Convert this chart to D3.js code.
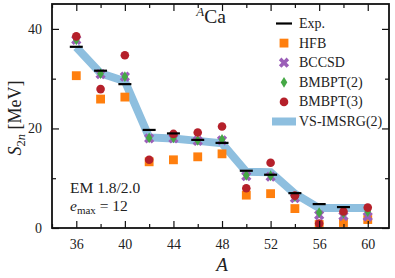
<!DOCTYPE html>
<html>
<head>
<meta charset="utf-8">
<script src="https://cdn.jsdelivr.net/npm/d3@7"></script>
<style>
  body { margin: 0; background: #fff; }
  text { font-family: "Liberation Serif", "DejaVu Serif", serif; fill: #222; }
</style>
</head>
<body>
<svg id="chart" width="395" height="278"></svg>
<script>
// mass numbers of the Ca isotopes
const massNumbers = [36, 38, 40, 42, 44, 46, 48, 50, 52, 54, 56, 58, 60];

// S2n in MeV
const expValues    = [36.4, 31.6, 28.9, 19.7, 19.0, 17.7, 17.1, 11.5, 10.7, 7.0, 4.8, 4.2];
const hfbValues    = [30.6, 25.9, 26.3, 13.3, 13.7, 14.3, 14.9, 6.6, 6.9, 3.9, 0.7, 1.1, 1.7];
const bccsdValues  = [37.8, 30.9, 30.4, 18.0, 18.0, 17.5, 17.6, 10.4, 10.3, 6.0, 2.6, 2.4, 2.3];
const bmbpt2Values = [37.8, 31.0, 30.4, 18.1, 18.1, 17.6, 17.8, 10.6, 10.5, 6.3, 3.1, 3.0, 3.3];
const bmbpt3Values = [38.5, 27.9, 34.7, 13.7, 18.9, 19.2, 20.4, 8.0, 13.1, 6.5, 0.9, 3.3, 4.1];
const imsrgValues  = [36.3, 31.1, 29.5, 18.2, 18.0, 17.5, 17.0, 11.3, 11.2, 6.9, 4.0, 4.0, 4.0];

const xMajorTicks = [36, 40, 44, 48, 52, 56, 60];
const xMinorTicks = [34, 38, 42, 46, 50, 54, 58];
const yMajorTicks = [0, 20, 40];
const yMinorTicks = [10, 30];

const legendLabels = ["Exp.", "HFB", "BCCSD", "BMBPT(2)", "BMBPT(3)", "VS-IMSRG(2)"];

const colors = {
  hfb: "#ff7f0e",
  bccsd: "#9b5fb8",
  bmbpt2: "#45a845",
  bmbpt3: "#b5202a",
  imsrg: "#8ebfdf"
};

var svg = d3.select("#chart"),
    box = {left: 52, right: 389, top: 4, bottom: 228};

var x = d3.scaleLinear().domain([34, 61.75]).range([box.left, box.right]);
var y = d3.scaleLinear().domain([0, 45]).range([box.bottom, box.top]);

const pts = vals => vals.map((v, i) => ({a: massNumbers[i], v}));

// marker shapes
var squarePath = d3.symbol().type(d3.symbolSquare).size(78)();
var circlePath = d3.symbol().type(d3.symbolCircle).size(58)();
var crossPath = d3.symbol().type(d3.symbolCross).size(66)();
var diamondPath = "M0,-5.4L3.3,0L0,5.4L-3.3,0Z";

// VS-IMSRG(2) band
var line = d3.line().x(d => x(d.a)).y(d => y(d.v));
svg.append("path")
    .datum(pts(imsrgValues))
    .attr("fill", "none")
    .attr("stroke", colors.imsrg)
    .attr("stroke-width", 8)
    .attr("stroke-linejoin", "miter")
    .attr("d", line);

function drawMarkers(vals, path, color, rot) {
  svg.append("g").selectAll("path")
      .data(pts(vals))
    .enter().append("path")
      .attr("d", path)
      .attr("fill", color)
      .attr("transform", d => "translate(" + x(d.a) + "," + y(d.v) + ")" + (rot ? " rotate(45)" : ""));
}

drawMarkers(hfbValues, squarePath, colors.hfb);
drawMarkers(bccsdValues, crossPath, colors.bccsd, true);
drawMarkers(bmbpt2Values, diamondPath, colors.bmbpt2);
drawMarkers(bmbpt3Values, circlePath, colors.bmbpt3);

// experiment bars
svg.append("g").selectAll("line")
    .data(pts(expValues))
  .enter().append("line")
    .attr("x1", d => x(d.a) - 6.5)
    .attr("x2", d => x(d.a) + 6.5)
    .attr("y1", d => y(d.v))
    .attr("y2", d => y(d.v))
    .attr("stroke", "#000")
    .attr("stroke-width", 2.2);

// axes, ticks inward on all four sides
function styleAxis(g) {
  g.attr("font-family", null);
  g.select(".domain").remove();
  g.selectAll(".tick line").attr("stroke", "#111").attr("stroke-width", 1.2);
  g.selectAll(".tick text").attr("font-size", 14).attr("fill", "#222");
}

svg.append("g").attr("transform", "translate(0," + box.bottom + ")")
    .call(d3.axisBottom(x).tickValues(xMajorTicks).tickSize(-7).tickPadding(11).tickFormat(d3.format("d")))
    .call(styleAxis);
svg.append("g").attr("transform", "translate(0," + box.bottom + ")")
    .call(d3.axisBottom(x).tickValues(xMinorTicks).tickSize(-4).tickFormat(""))
    .call(styleAxis);
svg.append("g").attr("transform", "translate(0," + box.top + ")")
    .call(d3.axisTop(x).tickValues(xMajorTicks).tickSize(-7).tickFormat(""))
    .call(styleAxis);
svg.append("g").attr("transform", "translate(0," + box.top + ")")
    .call(d3.axisTop(x).tickValues(xMinorTicks).tickSize(-4).tickFormat(""))
    .call(styleAxis);

svg.append("g").attr("transform", "translate(" + box.left + ",0)")
    .call(d3.axisLeft(y).tickValues(yMajorTicks).tickSize(-7).tickPadding(10))
    .call(styleAxis);
svg.append("g").attr("transform", "translate(" + box.left + ",0)")
    .call(d3.axisLeft(y).tickValues(yMinorTicks).tickSize(-4).tickFormat(""))
    .call(styleAxis);
svg.append("g").attr("transform", "translate(" + box.right + ",0)")
    .call(d3.axisRight(y).tickValues(yMajorTicks).tickSize(-7).tickFormat(""))
    .call(styleAxis);
svg.append("g").attr("transform", "translate(" + box.right + ",0)")
    .call(d3.axisRight(y).tickValues(yMinorTicks).tickSize(-4).tickFormat(""))
    .call(styleAxis);

// frame
svg.append("rect")
    .attr("x", box.left).attr("y", box.top)
    .attr("width", box.right - box.left).attr("height", box.bottom - box.top)
    .attr("fill", "none").attr("stroke", "#111").attr("stroke-width", 1.8);

// title  ^A Ca
var title = svg.append("text").attr("x", 211).attr("y", 23)
    .attr("text-anchor", "middle").attr("font-size", 19.5);
title.append("tspan").attr("font-style", "italic").attr("font-size", 13).attr("dy", -7).text("A");
title.append("tspan").attr("dy", 7).text("Ca");

// axis labels
svg.append("text").attr("x", 222).attr("y", 271)
    .attr("text-anchor", "middle").attr("font-size", 19).attr("font-style", "italic").text("A");

var ylab = svg.append("text")
    .attr("transform", "translate(21,118) rotate(-90)")
    .attr("text-anchor", "middle").attr("font-size", 18);
ylab.append("tspan").attr("font-style", "italic").text("S");
ylab.append("tspan").attr("font-size", 12.5).attr("dy", 4).text("2");
ylab.append("tspan").attr("font-size", 12.5).attr("font-style", "italic").text("n");
ylab.append("tspan").attr("dy", -4).text(" [MeV]");

// annotation
svg.append("text").attr("x", 70).attr("y", 193).attr("font-size", 15.5).text("EM 1.8/2.0");
var emax = svg.append("text").attr("x", 70).attr("y", 211).attr("font-size", 15.5);
emax.append("tspan").attr("font-style", "italic").text("e");
emax.append("tspan").attr("font-size", 11).attr("dy", 3).text("max");
emax.append("tspan").attr("dy", -3).text(" = 12");

// legend
var legend = svg.append("g");
var legendY = i => 23.5 + i * 19.6;
legendLabels.forEach((lab, i) => {
  var row = legend.append("g").attr("transform", "translate(284," + legendY(i) + ")");
  if (i == 0) {
    row.append("line").attr("x1", -8).attr("x2", 8).attr("stroke", "#000").attr("stroke-width", 2.2);
  } else if (i == 1) {
    row.append("path").attr("d", squarePath).attr("fill", colors.hfb);
  } else if (i == 2) {
    row.append("path").attr("d", crossPath).attr("fill", colors.bccsd).attr("transform", "rotate(45)");
  } else if (i == 3) {
    row.append("path").attr("d", diamondPath).attr("fill", colors.bmbpt2);
  } else if (i == 4) {
    row.append("path").attr("d", circlePath).attr("fill", colors.bmbpt3);
  } else {
    row.append("rect").attr("x", -12).attr("y", -4).attr("width", 24).attr("height", 8).attr("fill", colors.imsrg);
  }
  row.append("text").attr("x", 15).attr("y", 4.5).attr("font-size", 14).text(lab);
});
</script>
</body>
</html>
